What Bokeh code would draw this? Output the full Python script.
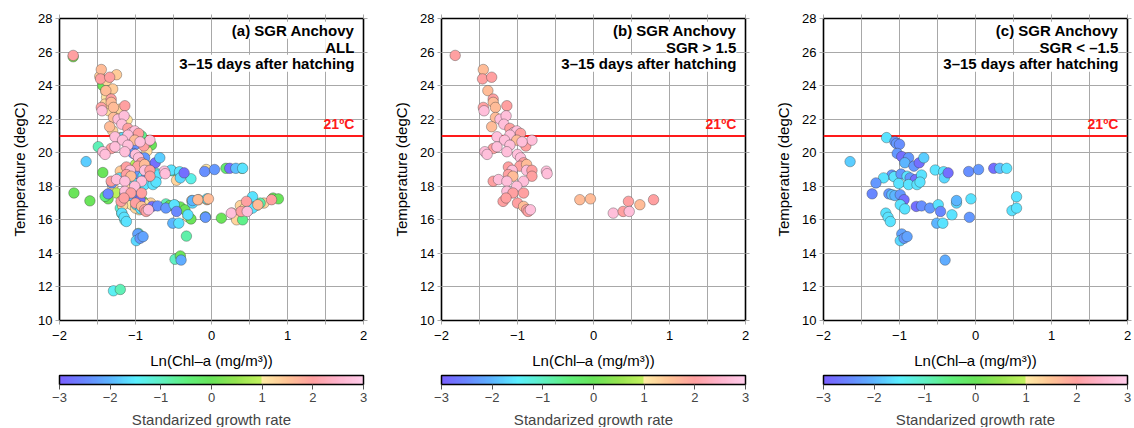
import numpy as np
from bokeh.plotting import figure
from bokeh.models import (ColumnDataSource, LinearColorMapper, ColorBar, FixedTicker,
                          LinearAxis, Span, Label, Title, Range1d)
from bokeh.layouts import row
from bokeh.embed import file_html
from bokeh.resources import INLINE

# ---------------- data ----------------
# (b) SGR > 1.5
b_x = [-1.82, -1.45, -1.46, -1.34, -1.39, -1.32, -1.32, -1.45, -1.44, -1.29,
       -1.14, -1.29, -1.23, -1.15, -1.34, -1.18, -1.10, -1.05, -1.01, -0.96,
       -1.10, -1.27, -1.17, -1.01, -0.89, -0.81, -0.94, -1.10, -1.32, -1.27,
       -1.43, -1.40, -1.14, -1.00, -0.96, -0.92, -0.97, -0.88, -1.12, -1.07,
       -0.88, -0.81, -0.62, -0.61, -1.12, -1.06, -0.81, -0.92, -1.32, -1.25,
       -1.14, -1.01, -1.14, -1.06, -0.92, -1.19, -1.15, -1.00, -0.92, -0.88,
       -0.86, -0.83, -0.18, -0.04, 0.26, 0.39, 0.46, 0.47, 0.61, 0.79]
b_t = [25.8, 24.96, 24.4, 24.5, 23.7, 23.2, 23.0, 22.7, 22.5, 22.7,
       22.8, 22.1, 22.0, 22.2, 21.55, 21.7, 21.45, 21.2, 21.3, 21.15,
       21.05, 20.95, 20.75, 20.75, 20.4, 20.75, 20.65, 20.45, 20.25, 20.35,
       20.06, 19.9, 20.06, 19.9, 19.7, 19.4, 19.2, 19.3, 19.15, 18.95,
       18.95, 18.95, 18.9, 18.75, 18.7, 18.6, 18.6, 18.3, 18.3, 18.4,
       18.3, 18.0, 17.7, 17.6, 17.6, 17.1, 17.3, 17.0, 16.8, 16.6,
       16.5, 16.6, 17.2, 17.25, 16.4, 16.5, 17.1, 16.5, 16.9, 17.2]
b_s = [2.0, 1.6, 2.0, 2.0, 1.6, 2.0, 1.6, 2.0, 2.7, 1.6,
       2.0, 1.6, 2.7, 2.7, 1.6, 2.7, 2.0, 2.7, 2.7, 2.0,
       2.7, 2.7, 2.7, 1.6, 2.0, 2.7, 2.7, 2.7, 2.0, 2.7,
       2.7, 2.7, 2.7, 2.7, 2.7, 2.0, 2.0, 1.6, 2.0, 2.7,
       2.7, 2.0, 2.7, 2.7, 2.0, 1.6, 2.0, 2.7, 2.0, 2.7,
       2.7, 2.7, 2.7, 2.0, 2.0, 2.0, 2.0, 2.0, 1.6, 2.0,
       2.0, 2.7, 1.6, 1.6, 2.7, 2.0, 2.0, 2.7, 1.6, 2.0]

# (c) SGR < -1.5
c_x = [-1.17, -1.06, -1.04, -1.00, -1.03, -0.97, -0.88, -0.93, -0.81, -0.74,
       -0.68, -1.65, -1.10, -1.07, -0.98, -0.90, -0.86, -0.79, -0.71, -1.21,
       -1.31, -1.01, -0.88, -0.77, -0.73, -0.53, -0.42, -0.41, -0.36, -0.09,
       0.04, 0.24, 0.32, 0.41, -1.36, -1.14, -1.10, -1.06, -0.99, -0.94,
       -0.99, -0.93, -0.78, -0.71, -0.60, -0.49, -0.46, -0.51, -0.43, -0.31,
       -0.25, -0.25, -0.06, -0.08, 0.48, 0.54, 0.54, -1.18, -1.15, -1.12,
       -0.97, -0.99, -0.94, -0.90, -0.40]
c_t = [20.9, 20.66, 20.55, 20.5, 19.96, 19.77, 19.7, 19.4, 19.2, 19.4,
       19.7, 19.47, 18.67, 18.57, 18.73, 18.6, 18.5, 18.4, 18.67, 18.5,
       18.2, 18.17, 18.1, 18.1, 18.25, 18.97, 18.87, 18.5, 18.8, 18.88,
       19.0, 19.07, 19.07, 19.07, 17.55, 17.55, 17.5, 17.45, 17.5, 17.2,
       16.9, 16.65, 16.8, 16.83, 16.7, 16.9, 16.5, 15.8, 15.8, 16.3,
       17.0, 17.15, 17.25, 16.15, 16.55, 16.7, 17.38, 16.4, 16.15, 15.9,
       15.16, 14.76, 14.9, 15.0, 13.6]
c_s = [-1.6, -2.3, -2.3, -2.4, -2.3, -2.8, -2.3, -2.0, -2.3, -2.8,
       -1.8, -1.8, -2.3, -1.6, -2.3, -1.6, -2.3, -2.8, -1.6, -1.6,
       -2.3, -1.6, -1.6, -1.6, -1.6, -1.6, -1.6, -1.7, -2.8, -2.4,
       -2.3, -2.8, -1.9, -1.6, -2.5, -2.3, -1.9, -2.0, -2.3, -2.8,
       -1.6, -1.6, -2.8, -2.4, -2.3, -1.6, -2.5, -2.0, -1.6, -1.6,
       -1.7, -2.0, -1.6, -2.3, -1.6, -1.6, -1.6, -1.6, -1.6, -1.6,
       -2.2, -1.7, -2.3, -2.2, -2.1]

# remaining larvae (-1.5 <= SGR <= 1.5), only in (a)
m_x = [-1.82, -1.43, -1.39, -1.38, -1.25, -1.11, -1.49, -0.79, -1.43, -1.81,
       -1.60, -1.36, -1.18, -1.14, -0.96, -1.29, -1.20, -0.33, -0.48, -0.41,
       -0.52, -0.46, -0.42, -0.27, -0.07, 0.19, 0.40, -0.48, -0.41, -0.35,
       -0.31, -0.27, -0.26, -0.17, -0.06, -0.08, 0.13, 0.27, 0.33, 0.41,
       0.38, 0.44, 0.60, 0.69, 0.81, 0.88, 0.64, -1.15, -1.10, -1.05,
       -0.95, -1.00, -0.85, -1.20, -1.08, -0.95, -0.90, -0.75, -0.72, -0.95,
       -0.90, -1.00, -0.80, -1.30, -1.25, -1.40, -1.10, -1.05, -1.20, -1.17,
       -0.85, -1.00, -1.20, -1.30, -0.92, -1.35, -1.40, -1.30, -1.38, -1.47,
       -1.25, -1.20, -0.85, -0.60, -0.55, -0.88, -1.00]
m_t = [25.72, 24.0, 23.65, 23.3, 22.2, 21.95, 20.36, 20.46, 18.82, 17.6,
       17.13, 17.25, 16.38, 15.98, 15.19, 11.77, 11.85, 15.03, 13.65, 13.85,
       18.92, 18.36, 18.8, 18.45, 19.0, 19.07, 19.07, 16.87, 16.77, 16.6,
       16.18, 16.05, 17.15, 17.2, 17.2, 16.18, 16.1, 16.4, 16.0, 16.0,
       16.85, 16.7, 16.87, 17.0, 17.3, 17.25, 17.0, 19.0, 18.4, 18.8,
       19.1, 19.3, 18.9, 18.9, 18.1, 17.8, 18.2, 18.4, 18.76, 16.6,
       17.1, 17.3, 17.0, 18.0, 17.6, 17.4, 17.0, 16.9, 16.7, 16.85,
       20.1, 20.6, 20.9, 21.3, 21.0, 22.5, 22.9, 23.8, 24.3, 24.55,
       24.65, 22.6, 20.6, 16.95, 16.85, 16.95, 16.7]
m_s = [0.2, 0.0, 1.1, 1.1, 1.1, 1.1, -0.9, 0.0, 0.0, 0.0,
       0.0, 0.0, -0.9, -1.3, -0.9, -1.4, -0.9, -0.8, -1.0, 0.0,
       -0.7, 1.3, -0.9, -1.3, 1.1, -0.3, 0.0, -0.3, 0.0, 0.0,
       1.1, 0.0, 1.3, 1.3, 1.5, 0.0, 0.0, 1.3, 1.3, -0.6,
       1.3, 1.1, 1.3, 1.3, 0.0, 0.0, -0.8, 1.2, 1.1, 1.3,
       1.4, 0.8, 1.2, 1.4, 1.3, -0.8, -1.2, -1.0, -1.3, 1.1,
       0.1, -0.2, 1.3, 1.2, 0.9, -0.5, 1.4, 1.0, -1.1, 1.3,
       1.2, 1.0, 1.4, 1.3, -0.6, 1.2, 1.3, 1.4, 1.3, 1.4,
       1.4, 1.3, 0.0, -0.9, 0.0, 1.1, 1.3]

x_ticks = [-2, -1.5, -1, -0.5, 0, 0.5, 1, 1.5, 2]
x_labels = {-2: "\u22122", -1.5: "", -1: "\u22121", -0.5: "", 0: "0", 0.5: "", 1: "1", 1.5: "", 2: "2"}
y_ticks = [10, 12, 14, 16, 18, 20, 22, 24, 26, 28]
cb_ticks = [-3, -2, -1, 0, 1, 2, 3]
cb_labels = {-3: "\u22123", -2: "\u22122", -1: "\u22121", 0: "0", 1: "1", 2: "2", 3: "3"}
threshold = 21

panel_titles = [
    ["(a) SGR Anchovy", "ALL", "3\u201315 days after hatching"],
    ["(b) SGR Anchovy", "SGR > 1.5", "3\u201315 days after hatching"],
    ["(c) SGR Anchovy", "SGR < \u20131.5", "3\u201315 days after hatching"],
]

# ---------------- colour map ----------------
stops_v = [-3.0, -2.5, -2.0, -1.5, -1.0, -0.5, 0.0, 0.5, 0.99, 1.0, 1.5, 2.0, 2.5, 3.0]
stops_c = [(122, 96, 255), (105, 135, 255), (92, 182, 255), (90, 240, 255), (95, 240, 195),
           (95, 240, 125), (105, 228, 90), (150, 228, 80), (195, 242, 95), (255, 236, 165),
           (255, 196, 150), (255, 160, 160), (255, 180, 205), (255, 205, 235)]
vv = np.linspace(-3, 3, 256)
palette = []
for v in vv:
    rgb = [int(round(np.interp(v, stops_v, [c[i] for c in stops_c]))) for i in range(3)]
    palette.append("#%02x%02x%02x" % tuple(rgb))
mapper = LinearColorMapper(palette=palette, low=-3, high=3)

FONT = "Liberation Sans"
GRID = "#a8a8a8"


def make_panel(sources, titles, right_border):
    p = figure(frame_width=304, frame_height=302, x_range=Range1d(-2, 2), y_range=Range1d(10, 28),
               output_backend="svg", toolbar_location=None,
               min_border_left=59, min_border_right=right_border, min_border_top=18, min_border_bottom=0)
    p.outline_line_color = "black"
    p.outline_line_width = 1.6
    p.background_fill_color = "white"
    p.border_fill_color = "white"

    p.xaxis.ticker = FixedTicker(ticks=x_ticks)
    p.xaxis.major_label_overrides = x_labels
    p.yaxis.ticker = FixedTicker(ticks=y_ticks)
    for ax in (p.xaxis[0], p.yaxis[0]):
        ax.axis_line_color = None
        ax.major_tick_in = 0
        ax.major_tick_out = 4
        ax.minor_tick_line_color = None
        ax.major_tick_line_color = GRID
        ax.major_label_text_font = FONT
        ax.major_label_text_font_size = "13px"
        ax.major_label_text_color = "black"
        ax.axis_label_text_font = FONT
        ax.axis_label_text_font_size = "15px"
        ax.axis_label_text_font_style = "normal"
        ax.axis_label_text_color = "black"
    p.xaxis.major_label_standoff = 6
    p.yaxis.major_label_standoff = 3
    p.xaxis.axis_label = "Ln(Chl\u2013a (mg/m\u00b3))"
    p.yaxis.axis_label = "Temperature (degC)"
    p.xaxis.axis_label_standoff = 9
    p.yaxis.axis_label_standoff = 7

    top = LinearAxis(ticker=FixedTicker(ticks=x_ticks),
                     major_label_overrides={t: "" for t in x_ticks})
    right = LinearAxis(ticker=FixedTicker(ticks=y_ticks),
                       major_label_overrides={t: "" for t in y_ticks})
    for ax in (top, right):
        ax.axis_line_color = None
        ax.major_tick_in = 0
        ax.major_tick_out = 4
        ax.minor_tick_line_color = None
        ax.major_tick_line_color = GRID
        ax.major_label_text_font_size = "8px"
        ax.major_label_standoff = 0
    p.add_layout(top, "above")
    p.add_layout(right, "right")

    p.xgrid.ticker = FixedTicker(ticks=x_ticks)
    p.ygrid.ticker = FixedTicker(ticks=y_ticks)
    p.grid.grid_line_color = GRID
    p.grid.grid_line_width = 1

    span = Span(location=threshold, dimension="width", line_color="#ff1a1a", line_width=2, level="underlay")
    p.add_layout(span)

    for src in sources:
        p.scatter("x", "t", source=src, size=10.5,
                  fill_color={"field": "s", "transform": mapper},
                  line_color="#333333", line_alpha=0.6, line_width=0.6)

    p.add_layout(Label(x=1.88, y=threshold, y_offset=4, text="21\u00baC", text_align="right",
                       text_baseline="bottom", text_color="#ff1a1a", text_font=FONT,
                       text_font_size="14px", text_font_style="bold"))
    for txt, yv in zip(titles, [27.3, 26.29, 25.33]):
        p.add_layout(Label(x=1.88, y=yv, text=txt, text_align="right", text_baseline="middle",
                           text_font=FONT, text_font_size="15px", text_font_style="bold",
                           text_color="black", background_fill_color="white",
                           background_fill_alpha=1.0))

    cb = ColorBar(color_mapper=mapper, orientation="horizontal", height=9, width=304,
                  location="center", ticker=FixedTicker(ticks=cb_ticks),
                  major_label_overrides=cb_labels, major_tick_in=0, major_tick_out=5,
                  major_tick_line_color="#555555", minor_tick_line_color=None,
                  bar_line_color="black", bar_line_width=1.5, padding=4, margin=0,
                  label_standoff=3, major_label_text_font=FONT, major_label_text_font_size="13px",
                  background_fill_alpha=0, border_line_color=None)
    p.add_layout(cb, "below")
    p.add_layout(Title(text="Standarized growth rate", align="center", text_font=FONT,
                       text_font_size="15px", text_font_style="normal", standoff=0), "below")
    return p


src_b = ColumnDataSource(dict(x=b_x, t=b_t, s=b_s))
src_c = ColumnDataSource(dict(x=c_x, t=c_t, s=c_s))
src_m = ColumnDataSource(dict(x=m_x, t=m_t, s=m_s))

pa = make_panel([src_m, src_c, src_b], panel_titles[0], 19)
pb = make_panel([ColumnDataSource(dict(x=b_x, t=b_t, s=b_s))], panel_titles[1], 19)
pc = make_panel([ColumnDataSource(dict(x=c_x, t=c_t, s=c_s))], panel_titles[2], 7)

layout = row(pa, pb, pc)
open("out.html", "w").write(file_html(layout, INLINE))
